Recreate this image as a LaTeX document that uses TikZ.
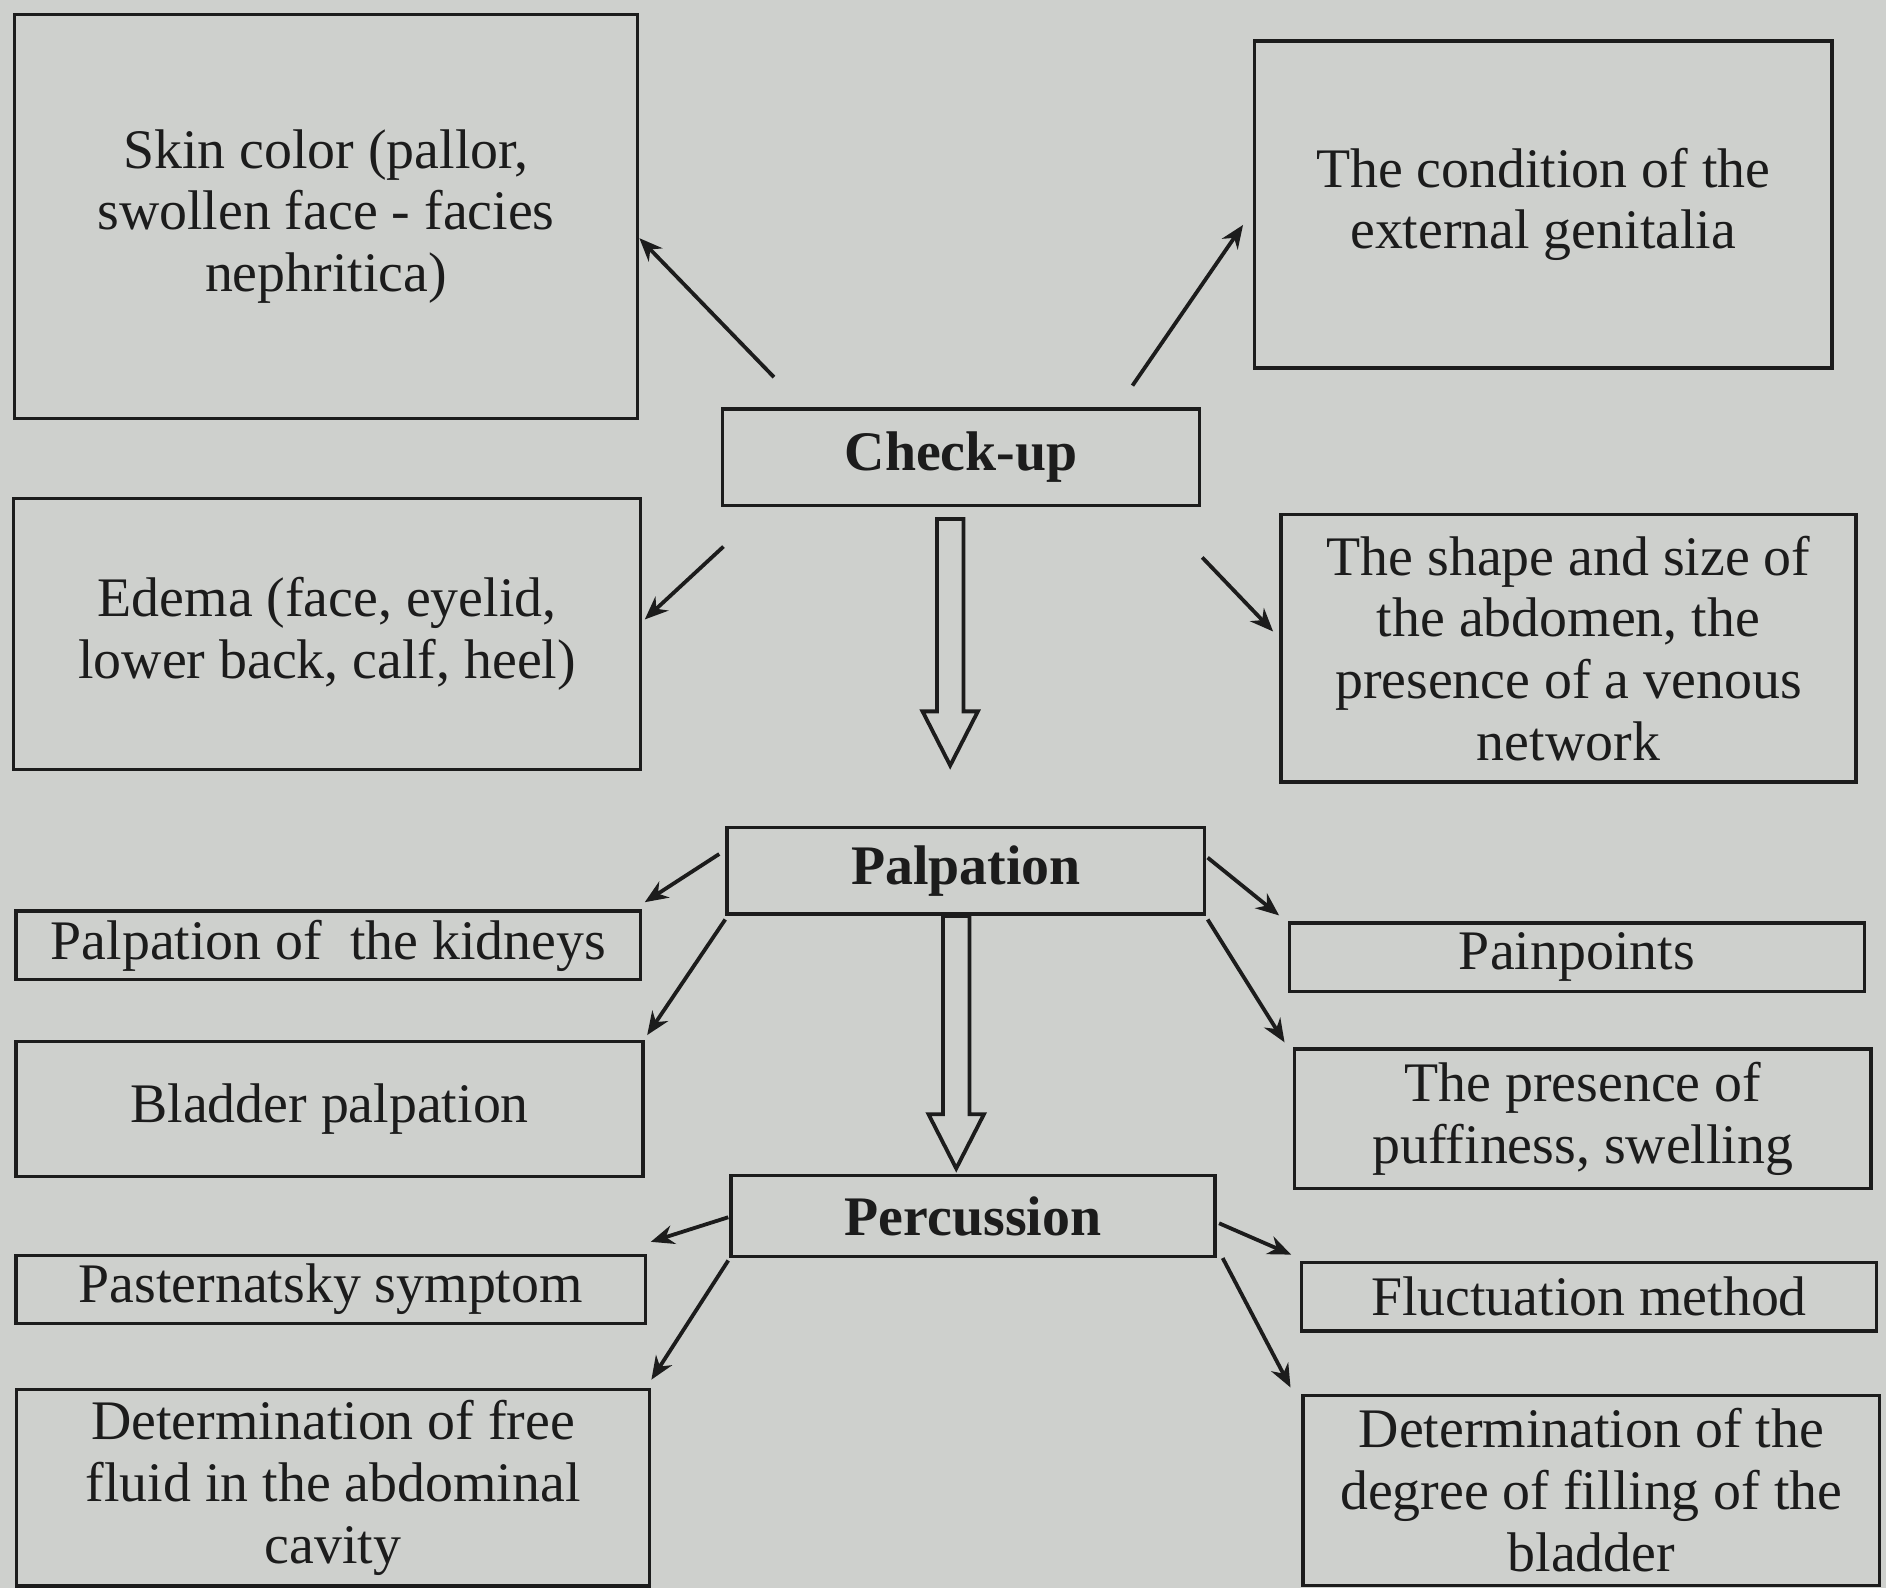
\documentclass[tikz,border=0pt]{standalone}
\usepackage{fontspec}
\setmainfont{Liberation Serif}
\usepackage{tikz}
\usetikzlibrary{arrows.meta, positioning, calc}
\usepackage{xcolor}
\definecolor{paper}{RGB}{206,208,205}
\definecolor{ink}{RGB}{28,28,28}
\tikzstyle{box} = [rectangle, draw=ink, line width=0.8pt, align=center, text=ink,
    inner sep=2pt, font=\fontsize{13.2}{14.6}\selectfont]
\tikzstyle{head} = [box, font=\fontsize{13.2}{14.6}\selectfont\bfseries]
\tikzstyle{arrow} = [draw=ink, line width=0.9pt, -{Stealth[length=5.5pt, width=4.5pt]}]
\tikzstyle{fatline} = [draw=ink, line width=0.9pt, line join=miter]
\newcommand{\fatarrow}[2]{% #1 = top of shaft, #2 = tip
  \draw[fatline] ($(#1)+(-11,0)$) -- ($(#2)+(-11,-45)$) -- ($(#2)+(-23,-45)$) -- (#2)
    -- ($(#2)+(23,-45)$) -- ($(#2)+(11,-45)$) -- ($(#1)+(11,0)$) -- cycle;}

\begin{document}
\begin{tikzpicture}[x=0.01cm, y=-0.01cm]
\fill[paper] (0,0) rectangle (1568,1320);
\useasboundingbox (0,0) rectangle (1568,1320);

% --- middle column ---
\node (checkup) [head, minimum width=3.96cm, minimum height=0.80cm] at (799,380) {Check-up};
\node (palp) [head, minimum width=3.97cm, minimum height=0.72cm] at (803,724) {Palpation};
\node (perc) [head, minimum width=4.02cm, minimum height=0.67cm] at (809,1011) {Percussion};

% --- left column ---
\node (skin) [box, minimum width=5.18cm, minimum height=3.36cm] at (271,180)
    {Skin color (pallor,\\ swollen face - facies\\ nephritica)};
\node (edema) [box, minimum width=5.21cm, minimum height=2.25cm] at (272,527)
    {Edema (face, eyelid,\\ lower back, calf, heel)};
\node (kidneys) [box, minimum width=5.19cm, minimum height=0.57cm] at (273,786)
    {Palpation of~ the kidneys};
\node (bladder) [box, minimum width=5.21cm, minimum height=1.12cm] at (274,922)
    {Bladder palpation};
\node (past) [box, minimum width=5.23cm, minimum height=0.55cm] at (275,1072)
    {Pasternatsky symptom};
\node (free) [box, minimum width=5.26cm, minimum height=1.63cm] at (277,1237)
    {Determination of free\\ fluid in the abdominal\\ cavity};

% --- right column ---
\node (cond) [box, minimum width=4.80cm, minimum height=2.72cm] at (1283,170)
    {The condition of the\\ external genitalia};
\node (shape) [box, minimum width=4.78cm, minimum height=2.22cm] at (1304,539)
    {The shape and size of\\ the abdomen, the\\ presence of a venous\\ network};
\node (pain) [box, minimum width=4.78cm, minimum height=0.57cm] at (1311,796)
    {Painpoints};
\node (puff) [box, minimum width=4.79cm, minimum height=1.16cm] at (1316,930)
    {The presence of\\ puffiness, swelling};
\node (fluct) [box, minimum width=4.78cm, minimum height=0.57cm] at (1321,1078)
    {Fluctuation method};
\node (degree) [box, minimum width=4.79cm, minimum height=1.58cm] at (1323,1239)
    {Determination of the\\ degree of filling of the\\ bladder};

% --- hollow arrows down the middle ---
\coordinate (s1) at ($(checkup.south)+(-9,10)$);
\coordinate (e1) at ($(s1)+(0,205)$);
\fatarrow{s1}{e1}
\coordinate (s2) at ($(palp.south)+(-8,0)$);
\coordinate (e2) at ($(s2)+(0,210)$);
\fatarrow{s2}{e2}

% --- check-up branches ---
\draw[arrow] ($(checkup.north west)+(44,-25)$) -- ($(skin.east)+(0,18)$);
\draw[arrow] ($(checkup.north east)+(-57,-18)$) -- ($(cond.west)+(-8,17)$);
\draw[arrow] ($(checkup.south west)+(2,33)$) -- ($(edema.east)+(2,-12)$);
\draw[arrow] ($(checkup.south east)+(1,42)$) -- ($(shape.west)+(-5,-14)$);

% --- palpation branches ---
\draw[arrow] ($(palp.west)+(-5,-14)$) -- ($(kidneys.north east)+(2,-6)$);
\draw[arrow] ($(palp.south west)+(0,3)$) -- ($(bladder.north east)+(2,-4)$);
\draw[arrow] ($(palp.east)+(1,-11)$) -- ($(pain.north west)+(-7,-5)$);
\draw[arrow] ($(palp.south east)+(1,3)$) -- ($(puff.north west)+(-7,-4)$);

% --- percussion branches ---
\draw[arrow] ($(perc.west)+(-1,1)$) -- ($(past.north east)+(3,-10)$);
\draw[arrow] ($(perc.south west)+(-1,2)$) -- ($(free.north east)+(0,-7)$);
\draw[arrow] ($(perc.east)+(2,6)$) -- ($(fluct.north west)+(-7,-5)$);
\draw[arrow] ($(perc.south east)+(5,0)$) -- ($(degree.north west)+(-9,-5)$);
\end{tikzpicture}
\end{document}
